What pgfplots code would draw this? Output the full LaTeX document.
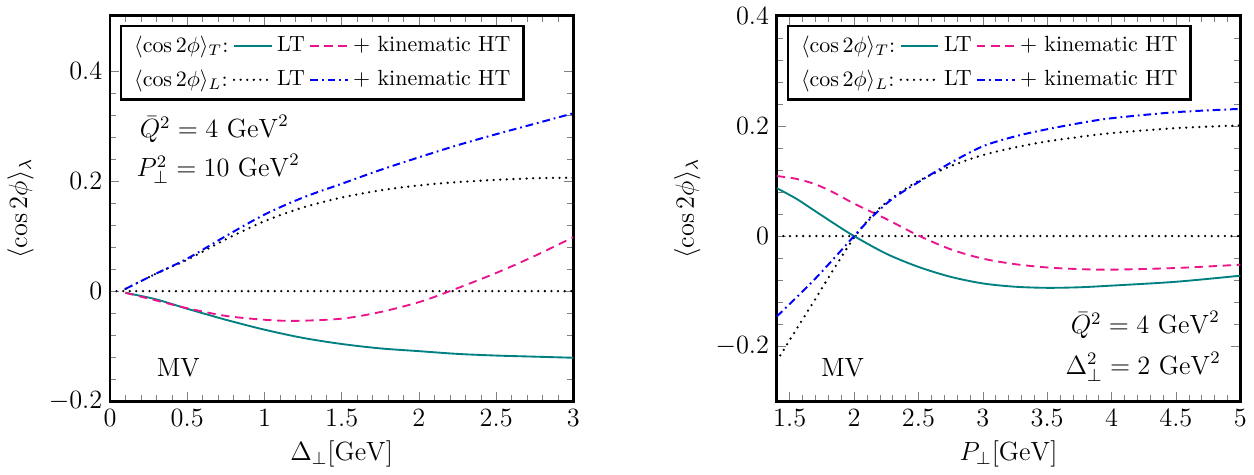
\documentclass[border=0pt]{standalone}
\usepackage{pgfplots}
\pgfplotsset{compat=1.18}
\definecolor{cteal}{RGB}{0,128,128}
\definecolor{cpink}{RGB}{236,20,140}
\definecolor{cblue}{RGB}{0,0,255}
\tikzset{txt/.style={anchor=west, inner sep=0pt, font=\large}}
\pgfplotsset{
  myaxis/.style={
    scale only axis, width=211pt, height=175.5pt,
    axis line style={line width=1.2pt},
    minor tick num=4, tick align=inside,
    tick label style={font=\large},
    label style={font=\large},
    ylabel={$\langle\cos 2\phi\rangle_\lambda$},
    legend columns=3,
    legend cell align=left,
    legend style={at={(0.021,0.977)}, anchor=north west, line width=1.2pt, draw=black,
      inner xsep=4pt, inner ysep=2.5pt, row sep=2.5pt, font=\normalsize},
  },
  lt/.style={cteal, line width=0.85pt},
  ht/.style={cpink, line width=0.85pt, dash pattern=on 3.8pt off 2.6pt},
  ltl/.style={black, line width=1.15pt, line cap=round, dash pattern=on 0pt off 3pt},
  htl/.style={cblue, line width=0.9pt, dash pattern=on 3.5pt off 1.8pt on 0.8pt off 1.8pt},
}
\begin{document}
\begin{tikzpicture}
\begin{axis}[myaxis, at={(0,0)}, anchor=south west,
  xmin=0, xmax=3, ymin=-0.2, ymax=0.5,
  xtick={0,0.5,1,1.5,2,2.5,3}, ytick={-0.2,0,0.2,0.4},
  xlabel={$\Delta_\perp[\mathrm{GeV}]$}]
\addlegendimage{empty legend}\addlegendentry{$\langle\cos 2\phi\rangle_T$:}
\addlegendimage{lt}\addlegendentry{LT}
\addlegendimage{ht}\addlegendentry{$+$ kinematic HT}
\addlegendimage{empty legend}\addlegendentry{$\langle\cos 2\phi\rangle_L$:}
\addlegendimage{ltl}\addlegendentry{LT}
\addlegendimage{htl}\addlegendentry{$+$ kinematic HT}
\addplot[ltl, forget plot] coordinates {(0,0) (3,0)};
\addplot[lt, smooth, forget plot] coordinates {(0.1,-0.003) (0.3,-0.015) (0.5,-0.032) (0.75,-0.052) (1.0,-0.070) (1.25,-0.085) (1.5,-0.096) (1.75,-0.104) (2.0,-0.109) (2.25,-0.114) (2.5,-0.117) (2.75,-0.119) (3.0,-0.121)};
\addplot[ht, smooth, forget plot] coordinates {(0.1,-0.003) (0.3,-0.017) (0.5,-0.031) (0.75,-0.045) (1.0,-0.052) (1.2,-0.054) (1.5,-0.050) (1.75,-0.038) (2.0,-0.020) (2.2,0.0) (2.5,0.033) (2.75,0.064) (3.0,0.098)};
\addplot[ltl, smooth, forget plot] coordinates {(0.1,0.004) (0.3,0.032) (0.5,0.057) (0.75,0.094) (1.0,0.127) (1.25,0.152) (1.5,0.170) (1.75,0.183) (2.0,0.192) (2.25,0.198) (2.5,0.202) (2.75,0.205) (3.0,0.206)};
\addplot[htl, smooth, forget plot] coordinates {(0.1,0.004) (0.3,0.032) (0.5,0.059) (0.75,0.100) (1.0,0.139) (1.25,0.170) (1.5,0.195) (1.75,0.220) (2.0,0.243) (2.25,0.265) (2.5,0.285) (2.75,0.304) (3.0,0.323)};
\node[txt] at (axis cs:0.19,0.294) {$\bar{Q}^2 = 4~\mathrm{GeV}^2$};
\node[txt] at (axis cs:0.17,0.222) {$P_\perp^2 = 10~\mathrm{GeV}^2$};
\node[txt] at (axis cs:0.3,-0.14) {MV};
\end{axis}
\begin{axis}[myaxis, at={(303.6pt,0)}, anchor=south west,
  xmin=1.4, xmax=5, ymin=-0.3, ymax=0.4,
  xtick={1.5,2,2.5,3,3.5,4,4.5,5}, ytick={-0.2,0,0.2,0.4},
  xlabel={$P_\perp[\mathrm{GeV}]$}]
\addlegendimage{empty legend}\addlegendentry{$\langle\cos 2\phi\rangle_T$:}
\addlegendimage{lt}\addlegendentry{LT}
\addlegendimage{ht}\addlegendentry{$+$ kinematic HT}
\addlegendimage{empty legend}\addlegendentry{$\langle\cos 2\phi\rangle_L$:}
\addlegendimage{ltl}\addlegendentry{LT}
\addlegendimage{htl}\addlegendentry{$+$ kinematic HT}
\addplot[ltl, forget plot] coordinates {(1.4,0) (5,0)};
\addplot[lt, smooth, forget plot] coordinates {(1.4,0.087) (1.55,0.068) (1.7,0.045) (1.85,0.022) (2.0,0.0) (2.25,-0.032) (2.5,-0.056) (2.75,-0.074) (3.0,-0.086) (3.25,-0.092) (3.5,-0.094) (3.75,-0.093) (4.0,-0.090) (4.5,-0.083) (5.0,-0.072)};
\addplot[ht, smooth, forget plot] coordinates {(1.4,0.109) (1.55,0.104) (1.7,0.094) (1.85,0.078) (2.0,0.059) (2.25,0.031) (2.5,0.001) (2.75,-0.024) (3.0,-0.041) (3.25,-0.051) (3.5,-0.057) (3.75,-0.060) (4.0,-0.061) (4.5,-0.058) (5.0,-0.052)};
\addplot[ltl, smooth, forget plot] coordinates {(1.4,-0.227) (1.55,-0.170) (1.7,-0.114) (1.85,-0.057) (2.0,-0.003) (2.15,0.040) (2.3,0.070) (2.5,0.100) (2.75,0.127) (3.0,0.147) (3.25,0.161) (3.5,0.172) (3.75,0.180) (4.0,0.187) (4.5,0.196) (5.0,0.201)};
\addplot[htl, smooth, forget plot] coordinates {(1.4,-0.146) (1.55,-0.112) (1.7,-0.077) (1.85,-0.039) (2.0,0.0) (2.15,0.037) (2.3,0.068) (2.5,0.098) (2.75,0.133) (3.0,0.163) (3.25,0.181) (3.5,0.194) (3.75,0.205) (4.0,0.214) (4.5,0.225) (5.0,0.231)};
\node[txt] at (axis cs:3.68,-0.162) {$\bar{Q}^2 = 4~\mathrm{GeV}^2$};
\node[txt] at (axis cs:3.64,-0.237) {$\Delta_\perp^2 = 2~\mathrm{GeV}^2$};
\node[txt] at (axis cs:1.74,-0.24) {MV};
\end{axis}
\end{tikzpicture}
\end{document}
